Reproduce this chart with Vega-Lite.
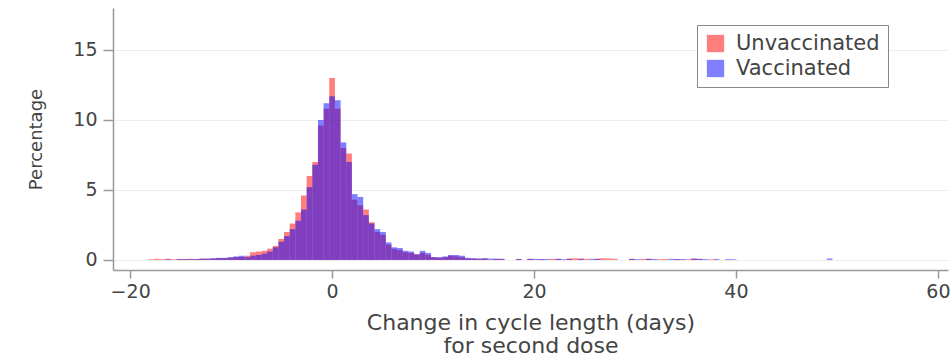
{
  "$schema": "https://vega.github.io/schema/vega-lite/v6.json",
  "width": 835,
  "height": 262,
  "autosize": {"type": "none"},
  "padding": {"left": 113, "top": 8, "right": 3, "bottom": 87},
  "background": "white",
  "config": {"font": "DejaVu Sans", "view": {"stroke": null}},
  "data": {"values": [
    {"group": "Unvaccinated", "start": -18.20, "end": -17.64, "pct": 0.05},
    {"group": "Unvaccinated", "start": -17.64, "end": -17.08, "pct": 0.08},
    {"group": "Unvaccinated", "start": -17.08, "end": -16.52, "pct": 0.06},
    {"group": "Unvaccinated", "start": -16.52, "end": -15.96, "pct": 0.08},
    {"group": "Unvaccinated", "start": -15.96, "end": -15.40, "pct": 0.05},
    {"group": "Unvaccinated", "start": -15.40, "end": -14.84, "pct": 0.07},
    {"group": "Unvaccinated", "start": -14.84, "end": -14.28, "pct": 0.06},
    {"group": "Unvaccinated", "start": -14.28, "end": -13.72, "pct": 0.08},
    {"group": "Unvaccinated", "start": -13.72, "end": -13.16, "pct": 0.07},
    {"group": "Unvaccinated", "start": -13.16, "end": -12.60, "pct": 0.10},
    {"group": "Unvaccinated", "start": -12.60, "end": -12.04, "pct": 0.08},
    {"group": "Unvaccinated", "start": -12.04, "end": -11.48, "pct": 0.10},
    {"group": "Unvaccinated", "start": -11.48, "end": -10.92, "pct": 0.12},
    {"group": "Unvaccinated", "start": -10.92, "end": -10.36, "pct": 0.12},
    {"group": "Unvaccinated", "start": -10.36, "end": -9.80, "pct": 0.15},
    {"group": "Unvaccinated", "start": -9.80, "end": -9.24, "pct": 0.20},
    {"group": "Unvaccinated", "start": -9.24, "end": -8.68, "pct": 0.20},
    {"group": "Unvaccinated", "start": -8.68, "end": -8.12, "pct": 0.30},
    {"group": "Unvaccinated", "start": -8.12, "end": -7.56, "pct": 0.55},
    {"group": "Unvaccinated", "start": -7.56, "end": -7.00, "pct": 0.60},
    {"group": "Unvaccinated", "start": -7.00, "end": -6.44, "pct": 0.65},
    {"group": "Unvaccinated", "start": -6.44, "end": -5.88, "pct": 0.80},
    {"group": "Unvaccinated", "start": -5.88, "end": -5.32, "pct": 1.00},
    {"group": "Unvaccinated", "start": -5.32, "end": -4.76, "pct": 1.50},
    {"group": "Unvaccinated", "start": -4.76, "end": -4.20, "pct": 2.00},
    {"group": "Unvaccinated", "start": -4.20, "end": -3.64, "pct": 2.60},
    {"group": "Unvaccinated", "start": -3.64, "end": -3.08, "pct": 3.40},
    {"group": "Unvaccinated", "start": -3.08, "end": -2.52, "pct": 4.60},
    {"group": "Unvaccinated", "start": -2.52, "end": -1.96, "pct": 6.00},
    {"group": "Unvaccinated", "start": -1.96, "end": -1.40, "pct": 7.00},
    {"group": "Unvaccinated", "start": -1.40, "end": -0.84, "pct": 9.60},
    {"group": "Unvaccinated", "start": -0.84, "end": -0.28, "pct": 10.80},
    {"group": "Unvaccinated", "start": -0.28, "end": 0.28, "pct": 13.00},
    {"group": "Unvaccinated", "start": 0.28, "end": 0.84, "pct": 10.80},
    {"group": "Unvaccinated", "start": 0.84, "end": 1.40, "pct": 8.00},
    {"group": "Unvaccinated", "start": 1.40, "end": 1.96, "pct": 7.60},
    {"group": "Unvaccinated", "start": 1.96, "end": 2.52, "pct": 4.30},
    {"group": "Unvaccinated", "start": 2.52, "end": 3.08, "pct": 3.90},
    {"group": "Unvaccinated", "start": 3.08, "end": 3.64, "pct": 3.60},
    {"group": "Unvaccinated", "start": 3.64, "end": 4.20, "pct": 2.70},
    {"group": "Unvaccinated", "start": 4.20, "end": 4.76, "pct": 2.00},
    {"group": "Unvaccinated", "start": 4.76, "end": 5.32, "pct": 1.80},
    {"group": "Unvaccinated", "start": 5.32, "end": 5.88, "pct": 1.10},
    {"group": "Unvaccinated", "start": 5.88, "end": 6.44, "pct": 0.80},
    {"group": "Unvaccinated", "start": 6.44, "end": 7.00, "pct": 0.70},
    {"group": "Unvaccinated", "start": 7.00, "end": 7.56, "pct": 0.55},
    {"group": "Unvaccinated", "start": 7.56, "end": 8.12, "pct": 0.50},
    {"group": "Unvaccinated", "start": 8.12, "end": 8.68, "pct": 0.40},
    {"group": "Unvaccinated", "start": 8.68, "end": 9.24, "pct": 0.50},
    {"group": "Unvaccinated", "start": 9.24, "end": 9.80, "pct": 0.35},
    {"group": "Unvaccinated", "start": 9.80, "end": 10.36, "pct": 0.20},
    {"group": "Unvaccinated", "start": 10.36, "end": 10.92, "pct": 0.15},
    {"group": "Unvaccinated", "start": 10.92, "end": 11.48, "pct": 0.20},
    {"group": "Unvaccinated", "start": 11.48, "end": 12.04, "pct": 0.30},
    {"group": "Unvaccinated", "start": 12.04, "end": 12.60, "pct": 0.25},
    {"group": "Unvaccinated", "start": 12.60, "end": 13.16, "pct": 0.20},
    {"group": "Unvaccinated", "start": 13.16, "end": 13.72, "pct": 0.10},
    {"group": "Unvaccinated", "start": 13.72, "end": 14.28, "pct": 0.10},
    {"group": "Unvaccinated", "start": 14.28, "end": 14.84, "pct": 0.08},
    {"group": "Unvaccinated", "start": 14.84, "end": 15.40, "pct": 0.10},
    {"group": "Unvaccinated", "start": 15.96, "end": 16.52, "pct": 0.08},
    {"group": "Unvaccinated", "start": 16.52, "end": 17.08, "pct": 0.06},
    {"group": "Unvaccinated", "start": 18.20, "end": 18.76, "pct": 0.07},
    {"group": "Unvaccinated", "start": 19.32, "end": 19.88, "pct": 0.08},
    {"group": "Unvaccinated", "start": 20.44, "end": 21.00, "pct": 0.06},
    {"group": "Unvaccinated", "start": 21.56, "end": 22.12, "pct": 0.08},
    {"group": "Unvaccinated", "start": 22.12, "end": 22.68, "pct": 0.07},
    {"group": "Unvaccinated", "start": 23.24, "end": 23.80, "pct": 0.10},
    {"group": "Unvaccinated", "start": 23.80, "end": 24.36, "pct": 0.12},
    {"group": "Unvaccinated", "start": 24.36, "end": 24.92, "pct": 0.10},
    {"group": "Unvaccinated", "start": 24.92, "end": 25.48, "pct": 0.08},
    {"group": "Unvaccinated", "start": 26.04, "end": 26.60, "pct": 0.10},
    {"group": "Unvaccinated", "start": 26.60, "end": 27.16, "pct": 0.12},
    {"group": "Unvaccinated", "start": 27.16, "end": 27.72, "pct": 0.10},
    {"group": "Unvaccinated", "start": 27.72, "end": 28.28, "pct": 0.08},
    {"group": "Unvaccinated", "start": 29.40, "end": 29.96, "pct": 0.08},
    {"group": "Unvaccinated", "start": 30.52, "end": 31.08, "pct": 0.07},
    {"group": "Unvaccinated", "start": 31.08, "end": 31.64, "pct": 0.08},
    {"group": "Unvaccinated", "start": 32.20, "end": 32.76, "pct": 0.06},
    {"group": "Unvaccinated", "start": 32.76, "end": 33.32, "pct": 0.07},
    {"group": "Unvaccinated", "start": 33.88, "end": 34.44, "pct": 0.06},
    {"group": "Unvaccinated", "start": 35.00, "end": 35.56, "pct": 0.06},
    {"group": "Unvaccinated", "start": 35.56, "end": 36.12, "pct": 0.08},
    {"group": "Unvaccinated", "start": 36.12, "end": 36.68, "pct": 0.06},
    {"group": "Unvaccinated", "start": 37.24, "end": 37.80, "pct": 0.05},
    {"group": "Vaccinated", "start": -16.52, "end": -15.96, "pct": 0.04},
    {"group": "Vaccinated", "start": -15.40, "end": -14.84, "pct": 0.05},
    {"group": "Vaccinated", "start": -14.84, "end": -14.28, "pct": 0.06},
    {"group": "Vaccinated", "start": -14.28, "end": -13.72, "pct": 0.05},
    {"group": "Vaccinated", "start": -13.72, "end": -13.16, "pct": 0.06},
    {"group": "Vaccinated", "start": -13.16, "end": -12.60, "pct": 0.08},
    {"group": "Vaccinated", "start": -12.60, "end": -12.04, "pct": 0.10},
    {"group": "Vaccinated", "start": -12.04, "end": -11.48, "pct": 0.12},
    {"group": "Vaccinated", "start": -11.48, "end": -10.92, "pct": 0.15},
    {"group": "Vaccinated", "start": -10.92, "end": -10.36, "pct": 0.15},
    {"group": "Vaccinated", "start": -10.36, "end": -9.80, "pct": 0.20},
    {"group": "Vaccinated", "start": -9.80, "end": -9.24, "pct": 0.25},
    {"group": "Vaccinated", "start": -9.24, "end": -8.68, "pct": 0.30},
    {"group": "Vaccinated", "start": -8.68, "end": -8.12, "pct": 0.20},
    {"group": "Vaccinated", "start": -8.12, "end": -7.56, "pct": 0.30},
    {"group": "Vaccinated", "start": -7.56, "end": -7.00, "pct": 0.35},
    {"group": "Vaccinated", "start": -7.00, "end": -6.44, "pct": 0.45},
    {"group": "Vaccinated", "start": -6.44, "end": -5.88, "pct": 0.60},
    {"group": "Vaccinated", "start": -5.88, "end": -5.32, "pct": 0.90},
    {"group": "Vaccinated", "start": -5.32, "end": -4.76, "pct": 1.30},
    {"group": "Vaccinated", "start": -4.76, "end": -4.20, "pct": 1.70},
    {"group": "Vaccinated", "start": -4.20, "end": -3.64, "pct": 2.20},
    {"group": "Vaccinated", "start": -3.64, "end": -3.08, "pct": 2.80},
    {"group": "Vaccinated", "start": -3.08, "end": -2.52, "pct": 3.60},
    {"group": "Vaccinated", "start": -2.52, "end": -1.96, "pct": 5.20},
    {"group": "Vaccinated", "start": -1.96, "end": -1.40, "pct": 6.80},
    {"group": "Vaccinated", "start": -1.40, "end": -0.84, "pct": 10.00},
    {"group": "Vaccinated", "start": -0.84, "end": -0.28, "pct": 11.20},
    {"group": "Vaccinated", "start": -0.28, "end": 0.28, "pct": 11.70},
    {"group": "Vaccinated", "start": 0.28, "end": 0.84, "pct": 11.40},
    {"group": "Vaccinated", "start": 0.84, "end": 1.40, "pct": 8.40},
    {"group": "Vaccinated", "start": 1.40, "end": 1.96, "pct": 7.00},
    {"group": "Vaccinated", "start": 1.96, "end": 2.52, "pct": 4.70},
    {"group": "Vaccinated", "start": 2.52, "end": 3.08, "pct": 4.50},
    {"group": "Vaccinated", "start": 3.08, "end": 3.64, "pct": 3.20},
    {"group": "Vaccinated", "start": 3.64, "end": 4.20, "pct": 2.60},
    {"group": "Vaccinated", "start": 4.20, "end": 4.76, "pct": 2.20},
    {"group": "Vaccinated", "start": 4.76, "end": 5.32, "pct": 2.00},
    {"group": "Vaccinated", "start": 5.32, "end": 5.88, "pct": 1.25},
    {"group": "Vaccinated", "start": 5.88, "end": 6.44, "pct": 0.90},
    {"group": "Vaccinated", "start": 6.44, "end": 7.00, "pct": 0.85},
    {"group": "Vaccinated", "start": 7.00, "end": 7.56, "pct": 0.65},
    {"group": "Vaccinated", "start": 7.56, "end": 8.12, "pct": 0.60},
    {"group": "Vaccinated", "start": 8.12, "end": 8.68, "pct": 0.40},
    {"group": "Vaccinated", "start": 8.68, "end": 9.24, "pct": 0.65},
    {"group": "Vaccinated", "start": 9.24, "end": 9.80, "pct": 0.50},
    {"group": "Vaccinated", "start": 9.80, "end": 10.36, "pct": 0.20},
    {"group": "Vaccinated", "start": 10.36, "end": 10.92, "pct": 0.20},
    {"group": "Vaccinated", "start": 10.92, "end": 11.48, "pct": 0.25},
    {"group": "Vaccinated", "start": 11.48, "end": 12.04, "pct": 0.35},
    {"group": "Vaccinated", "start": 12.04, "end": 12.60, "pct": 0.35},
    {"group": "Vaccinated", "start": 12.60, "end": 13.16, "pct": 0.30},
    {"group": "Vaccinated", "start": 13.16, "end": 13.72, "pct": 0.15},
    {"group": "Vaccinated", "start": 13.72, "end": 14.28, "pct": 0.12},
    {"group": "Vaccinated", "start": 14.28, "end": 14.84, "pct": 0.10},
    {"group": "Vaccinated", "start": 14.84, "end": 15.40, "pct": 0.12},
    {"group": "Vaccinated", "start": 15.40, "end": 15.96, "pct": 0.10},
    {"group": "Vaccinated", "start": 15.96, "end": 16.52, "pct": 0.08},
    {"group": "Vaccinated", "start": 16.52, "end": 17.08, "pct": 0.08},
    {"group": "Vaccinated", "start": 18.20, "end": 18.76, "pct": 0.06},
    {"group": "Vaccinated", "start": 19.32, "end": 19.88, "pct": 0.07},
    {"group": "Vaccinated", "start": 19.88, "end": 20.44, "pct": 0.08},
    {"group": "Vaccinated", "start": 20.44, "end": 21.00, "pct": 0.06},
    {"group": "Vaccinated", "start": 21.00, "end": 21.56, "pct": 0.07},
    {"group": "Vaccinated", "start": 22.12, "end": 22.68, "pct": 0.08},
    {"group": "Vaccinated", "start": 22.68, "end": 23.24, "pct": 0.06},
    {"group": "Vaccinated", "start": 23.24, "end": 23.80, "pct": 0.07},
    {"group": "Vaccinated", "start": 24.36, "end": 24.92, "pct": 0.06},
    {"group": "Vaccinated", "start": 25.48, "end": 26.04, "pct": 0.08},
    {"group": "Vaccinated", "start": 26.04, "end": 26.60, "pct": 0.06},
    {"group": "Vaccinated", "start": 29.40, "end": 29.96, "pct": 0.07},
    {"group": "Vaccinated", "start": 29.96, "end": 30.52, "pct": 0.06},
    {"group": "Vaccinated", "start": 31.08, "end": 31.64, "pct": 0.08},
    {"group": "Vaccinated", "start": 31.64, "end": 32.20, "pct": 0.07},
    {"group": "Vaccinated", "start": 33.32, "end": 33.88, "pct": 0.08},
    {"group": "Vaccinated", "start": 33.88, "end": 34.44, "pct": 0.06},
    {"group": "Vaccinated", "start": 34.44, "end": 35.00, "pct": 0.07},
    {"group": "Vaccinated", "start": 35.56, "end": 36.12, "pct": 0.10},
    {"group": "Vaccinated", "start": 36.12, "end": 36.68, "pct": 0.08},
    {"group": "Vaccinated", "start": 36.68, "end": 37.24, "pct": 0.06},
    {"group": "Vaccinated", "start": 37.80, "end": 38.36, "pct": 0.07},
    {"group": "Vaccinated", "start": 38.92, "end": 39.48, "pct": 0.06},
    {"group": "Vaccinated", "start": 39.48, "end": 40.04, "pct": 0.05},
    {"group": "Vaccinated", "start": 49.00, "end": 49.56, "pct": 0.10}
  ]},
  "mark": {"type": "bar", "opacity": 0.5, "strokeWidth": 0},
  "encoding": {
    "x": {
      "field": "start", "type": "quantitative",
      "scale": {"domain": [-21.7, 61], "nice": false, "zero": false},
      "axis": {
        "values": [-20, 0, 20, 40, 60],
        "title": ["Change in cycle length (days)", "for second dose"],
        "grid": false,
        "domainColor": "#999999", "domainWidth": 1.5,
        "tickColor": "#999999", "tickWidth": 1.5, "tickSize": 8,
        "labelFontSize": 19, "labelColor": "#444444", "labelPadding": 4,
        "titleFontSize": 22, "titleFontWeight": "normal", "titleColor": "#444444",
        "titlePadding": 11, "titleLineHeight": 23
      }
    },
    "x2": {"field": "end"},
    "y": {
      "field": "pct", "type": "quantitative", "stack": null,
      "scale": {"domain": [-0.72, 18], "nice": false, "zero": false},
      "axis": {
        "values": [0, 5, 10, 15],
        "title": "Percentage",
        "grid": true, "gridColor": "#eeeeee", "gridWidth": 1,
        "domainColor": "#999999", "domainWidth": 1.5,
        "tickColor": "#999999", "tickWidth": 1.5, "tickSize": 10,
        "labelFontSize": 19, "labelColor": "#444444", "labelPadding": 6,
        "titleFontSize": 18, "titleFontWeight": "normal", "titleColor": "#444444",
        "titlePadding": 27
      }
    },
    "y2": {"datum": 0},
    "color": {
      "field": "group", "type": "nominal",
      "scale": {"domain": ["Unvaccinated", "Vaccinated"], "range": ["#ff0000", "#0000ff"]},
      "legend": {
        "orient": "none", "legendX": 584, "legendY": 17, "title": null,
        "symbolType": "square", "symbolSize": 300, "symbolOpacity": 0.5, "symbolStrokeWidth": 0,
        "labelFontSize": 21, "labelColor": "#444444", "labelOffset": 10,
        "strokeColor": "#888888", "fillColor": "white", "padding": 8, "rowPadding": 3
      }
    }
  }
}
